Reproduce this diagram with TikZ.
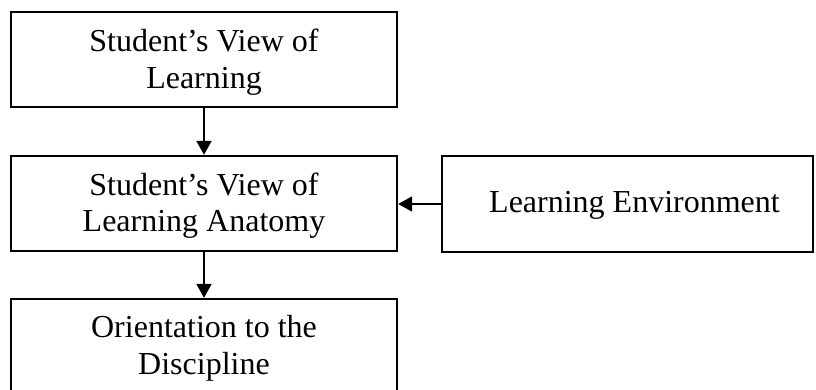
\documentclass[tikz,border=0pt]{standalone}
\usepackage{fontspec}
\setmainfont{Liberation Serif}
\usetikzlibrary{arrows.meta}
\begin{document}
\begin{tikzpicture}[x=1pt,y=1pt,
  box/.style={draw=black,line width=2.4pt,inner sep=0pt},
  leftbox/.style={box,minimum width=386pt,minimum height=95pt},
  txt/.style={inner sep=0pt,align=center,font=\fontsize{32}{36.5}\selectfont},
  arr/.style={line width=2pt,-{Triangle[length=14pt,width=15pt]}}]
\useasboundingbox (0,0) rectangle (816,-390);
\node[leftbox] (b1) at (204,-59.5) {};
\node[leftbox] (b2) at (204,-203.5) {};
\node[leftbox] (b3) at (204,-346.5) {};
\node[box,minimum width=371pt,minimum height=96pt] (r) at (627.5,-204) {};
\node[txt] (t1) at ([yshift=-2.5pt]b1.center) {Student’s View of\\Learning};
\node[txt] (t2) at ([yshift=-2pt]b2.center) {Student’s View of\\Learning Anatomy};
\node[txt] (t3) at ([yshift=-2pt]b3.center) {Orientation to the\\Discipline};
\node[txt] (tr) at ([xshift=7pt,yshift=-1pt]r.center) {Learning Environment};
\draw[arr] (b1.south) -- (b2.north);
\draw[arr] (b2.south) -- (b3.north);
\draw[arr] (r.west) -- (r.west -| b2.east);
\end{tikzpicture}
\end{document}
